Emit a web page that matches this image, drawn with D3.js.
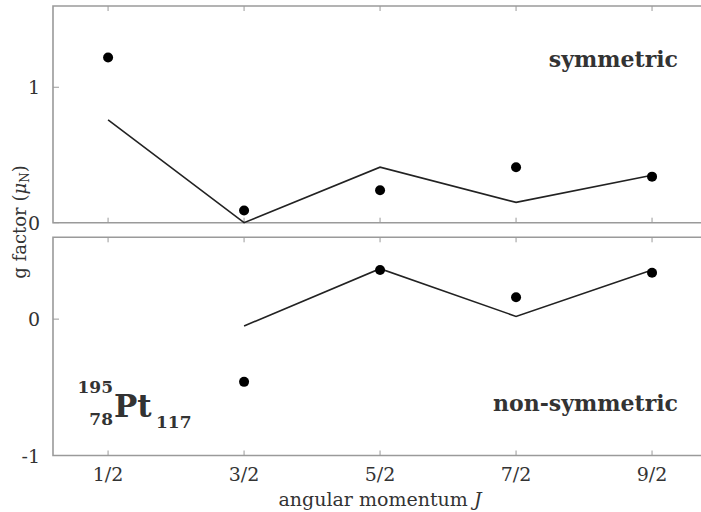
<!DOCTYPE html>
<html><head><meta charset="utf-8">
<script src="https://cdn.jsdelivr.net/npm/d3@7/dist/d3.min.js"></script>
<style>body{margin:0;background:#fff}svg{display:block}text{font-family:"DejaVu Serif","Liberation Serif",serif;fill:#333}</style>
</head><body><svg id="c" width="701" height="512"></svg>
<script>
const categories = ["1/2","3/2","5/2","7/2","9/2"];
const symExp   = [1.22, 0.09, 0.24, 0.41, 0.34];
const symTheo  = [0.76, 0.00, 0.41, 0.15, 0.35];
const nonExp   = [null, -0.46, 0.36, 0.16, 0.34];
const nonTheo  = [null, -0.05, 0.37, 0.02, 0.36];
const topTicks = [0, 1];
const botTicks = [-1, 0];

const svg = d3.select("#c");
const W = 701;
const x = d3.scaleLinear().domain([-0.405, 4.36]).range([53, W]);
const panels = [
  {y: d3.scaleLinear().domain([0, 1.6]).range([222.7, 6]), exp: symExp, theo: symTheo, ticks: topTicks, label: "symmetric", lx: 678, ly: 67},
  {y: d3.scaleLinear().domain([-1, 0.6]).range([455.5, 237.3]), exp: nonExp, theo: nonTheo, ticks: botTicks, label: "non-symmetric", lx: 678, ly: 411}
];
const axisCol = "#9a9a9a";
panels.forEach((p, pi) => {
  const g = svg.append("g");
  const [y0, y1] = p.y.range();
  g.append("path").attr("d", `M${W},${y1}H53V${y0}H${W}`).attr("fill","none").attr("stroke",axisCol).attr("stroke-width",1.6);
  categories.forEach((c,i)=>{
    g.append("line").attr("x1",x(i)).attr("x2",x(i)).attr("y1",y0).attr("y2",y0-5).attr("stroke",axisCol).attr("stroke-width",1);
    g.append("line").attr("x1",x(i)).attr("x2",x(i)).attr("y1",y1).attr("y2",y1+5).attr("stroke",axisCol).attr("stroke-width",1);
  });
  p.ticks.forEach(t=>{
    g.append("line").attr("x1",53).attr("x2",59).attr("y1",p.y(t)).attr("y2",p.y(t)).attr("stroke",axisCol).attr("stroke-width",1);
    g.append("text").attr("x",40).attr("y",p.y(t)+7).attr("text-anchor","end").attr("font-size",19).text(t);
  });
  const pts = p.theo.map((v,i)=>[i,v]).filter(d=>d[1]!==null);
  g.append("path").datum(pts).attr("d", d3.line().x(d=>x(d[0])).y(d=>p.y(d[1])))
    .attr("fill","none").attr("stroke","#222").attr("stroke-width",1.6);
  const ep = p.exp.map((v,i)=>[i,v]).filter(d=>d[1]!==null);
  g.selectAll("circle").data(ep).join("circle").attr("cx",d=>x(d[0])).attr("cy",d=>p.y(d[1])).attr("r",5).attr("fill","#000");
  g.append("text").attr("x",p.lx).attr("y",p.ly).attr("text-anchor","end").attr("font-size",22).attr("font-weight","bold").attr("fill","#222").text(p.label);
});
categories.forEach((c,i)=>{
  svg.append("text").attr("x",x(i)).attr("y",481).attr("text-anchor","middle").attr("font-size",19).text(c);
});
svg.append("text").attr("x",380).attr("y",506).attr("text-anchor","middle").attr("font-size",19)
  .html('angular momentum <tspan font-style="italic">J</tspan>');
svg.append("text").attr("transform","translate(26,222) rotate(-90)").attr("text-anchor","middle").attr("font-size",18)
  .html('g factor (<tspan font-style="italic">μ</tspan><tspan font-size="12" dy="3">N</tspan><tspan dy="-3">)</tspan>');
const nl = svg.append("g").attr("fill","#111");
nl.append("text").attr("x",113).attr("y",393).attr("text-anchor","end").attr("font-size",17).attr("font-weight","bold").text("195");
nl.append("text").attr("x",113).attr("y",425).attr("text-anchor","end").attr("font-size",17).attr("font-weight","bold").text("78");
nl.append("text").attr("x",114).attr("y",417).attr("font-size",31).attr("font-weight","bold").text("Pt");
nl.append("text").attr("x",156).attr("y",428).attr("font-size",17).attr("font-weight","bold").text("117");
</script></body></html>
